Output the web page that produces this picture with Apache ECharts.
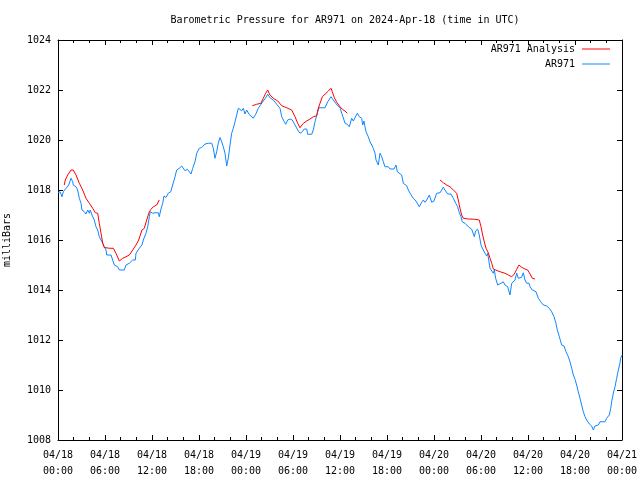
<!DOCTYPE html>
<html>
<head>
<meta charset="utf-8">
<script src="https://cdn.jsdelivr.net/npm/echarts@6/dist/echarts.min.js"></script>
<style>html,body{margin:0;padding:0;background:#fff}#c{width:640px;height:480px}</style>
</head>
<body>
<div id="c"></div>
<script>
// Hours since 2024-04-18 00:00 UTC
const xTickLabels = ['04/18\n00:00','04/18\n06:00','04/18\n12:00','04/18\n18:00','04/19\n00:00','04/19\n06:00','04/19\n12:00','04/19\n18:00','04/20\n00:00','04/20\n06:00','04/20\n12:00','04/20\n18:00','04/21\n00:00'];

const obsHours = [0,0.26,0.51,0.68,1.02,1.37,1.66,1.88,1.95,2.30,2.51,2.72,2.94,3.06,3.36,3.57,3.79,4.0,4.12,4.34,4.63,4.85,5.07,5.27,5.49,5.71,5.91,6.13,6.22,6.77,6.98,7.19,7.40,7.62,7.83,8.46,8.68,8.90,9.10,9.54,9.87,9.96,10.38,10.72,10.89,11.23,11.45,11.66,11.78,12.09,12.38,12.80,12.93,13.11,13.37,13.53,13.79,14.08,14.39,14.64,14.94,15.15,15.49,15.79,16.0,16.21,16.51,16.76,16.98,17.20,17.49,17.71,18.04,18.34,18.55,18.77,19.19,19.62,19.83,20.04,20.26,20.46,20.68,20.90,21.10,21.32,21.54,21.74,21.96,22.17,22.38,22.60,22.81,23.02,23.23,23.45,23.66,23.87,24.09,24.38,24.57,24.93,25.24,25.57,25.91,26.21,26.51,26.77,27.06,27.49,27.92,28.34,28.56,28.89,29.07,29.32,29.62,29.91,30.26,30.60,30.89,31.19,31.44,31.75,31.88,32.39,32.59,32.81,33.15,33.32,34.09,34.43,34.85,35.15,35.45,35.71,36.0,36.22,36.51,36.64,36.93,37.19,37.49,37.70,37.91,38.21,38.47,38.77,38.90,39.06,39.19,39.32,39.61,39.83,40.05,40.25,40.47,40.60,40.76,40.89,41.11,41.32,41.53,41.74,41.96,42.17,42.38,42.89,43.15,43.32,43.57,43.87,44.08,44.51,44.72,45.02,45.36,45.70,46.12,46.43,46.63,46.85,47.07,47.40,47.71,48.0,48.13,48.34,48.77,49.19,49.40,49.75,50.17,50.47,50.77,51.03,51.19,51.45,51.61,51.96,52.38,52.81,53.15,53.32,53.58,53.78,54.0,54.29,54.51,54.73,54.85,55.02,55.15,55.37,55.57,55.70,55.87,56.13,56.55,56.85,57.06,57.28,57.41,57.70,57.92,58.12,58.34,58.56,58.76,58.98,59.19,59.40,59.62,59.83,60.13,60.26,60.55,60.80,61.02,61.32,61.62,61.96,62.38,62.72,63.02,63.32,63.57,63.74,64.0,64.30,64.60,64.85,65.15,65.36,65.58,65.79,66.0,66.21,66.42,66.64,66.85,67.06,67.28,67.49,67.83,68.13,68.34,68.55,68.77,68.98,69.19,69.83,70.04,70.38,70.56,70.68,70.89,71.11,71.32,71.53,71.74,71.83,72.0];
const obsValues = [1017.9,1017.93,1017.73,1017.93,1018.07,1018.2,1018.47,1018.33,1018.2,1018.13,1018.0,1017.67,1017.47,1017.2,1017.13,1017.04,1017.2,1017.07,1017.2,1017.0,1016.8,1016.53,1016.4,1016.13,1016.0,1015.87,1015.73,1015.6,1015.4,1015.4,1015.2,1015.0,1015.07,1014.93,1014.8,1014.8,1015.0,1014.93,1015.07,1015.2,1015.2,1015.47,1015.67,1015.8,1016.0,1016.27,1016.53,1016.93,1017.13,1017.07,1017.09,1017.09,1016.93,1017.2,1017.47,1017.76,1017.7,1017.87,1017.93,1018.2,1018.53,1018.8,1018.87,1018.96,1018.93,1018.77,1018.83,1018.8,1018.64,1018.87,1019.13,1019.47,1019.67,1019.7,1019.7,1019.84,1019.87,1019.87,1019.67,1019.27,1019.53,1019.87,1020.1,1019.93,1019.73,1019.47,1018.96,1019.27,1019.8,1020.27,1020.47,1020.73,1021.0,1021.27,1021.33,1021.17,1021.27,1021.04,1021.2,1021.03,1021.03,1020.87,1021.03,1021.27,1021.43,1021.56,1021.69,1021.83,1021.69,1021.6,1021.43,1021.27,1020.93,1020.73,1020.63,1020.8,1020.84,1020.8,1020.6,1020.4,1020.27,1020.33,1020.44,1020.44,1020.23,1020.23,1020.4,1020.73,1021.13,1021.29,1021.29,1021.53,1021.73,1021.6,1021.47,1021.37,1021.3,1021.07,1020.8,1020.67,1020.63,1020.53,1020.87,1020.76,1020.89,1021.07,1020.93,1020.87,1020.6,1020.76,1020.53,1020.33,1020.13,1019.93,1019.8,1019.67,1019.47,1019.2,1019.13,1019.0,1019.47,1019.33,1019.13,1018.93,1019.0,1018.93,1018.84,1018.84,1019.0,1018.73,1018.8,1018.6,1018.27,1018.17,1018.0,1017.83,1017.67,1017.56,1017.33,1017.51,1017.6,1017.51,1017.6,1017.8,1017.51,1017.56,1017.6,1017.87,1017.89,1018.11,1018.0,1017.84,1017.84,1017.67,1017.47,1017.33,1017.13,1016.93,1016.73,1016.67,1016.53,1016.43,1016.13,1016.37,1016.43,1016.2,1015.8,1015.6,1015.47,1015.36,1015.47,1015.13,1014.87,1014.8,1014.67,1014.8,1014.47,1014.2,1014.27,1014.33,1014.2,1014.27,1014.13,1013.8,1014.27,1014.2,1014.4,1014.67,1014.47,1014.4,1014.51,1014.69,1014.4,1014.27,1014.27,1014.13,1014.0,1013.93,1013.93,1013.67,1013.53,1013.4,1013.36,1013.27,1013.13,1012.93,1012.67,1012.4,1012.13,1011.8,1011.76,1011.53,1011.33,1011.13,1010.87,1010.6,1010.43,1010.2,1009.93,1009.67,1009.4,1009.13,1008.93,1008.8,1008.64,1008.56,1008.4,1008.56,1008.51,1008.6,1008.73,1008.73,1008.87,1009.0,1009.27,1009.53,1009.87,1010.13,1010.47,1010.8,1011.07,1011.27,1011.4];

// Analysis series: three runs, separated by null gaps
const anaHours = [0.80,0.93,1.24,1.66,1.95,2.30,2.72,3.15,3.57,4.0,4.43,4.76,5.07,5.27,5.49,5.71,5.91,6.55,7.06,7.40,7.83,8.26,8.68,9.10,9.54,9.96,10.30,10.72,11.02,11.32,11.66,11.87,12.17,12.60,12.93,
  18.0,
  24.80,25.37,25.91,26.21,26.51,26.77,27.06,27.49,28.05,28.56,29.19,29.83,30.26,30.60,30.89,31.32,31.75,32.17,32.59,33.02,33.23,33.74,34.09,34.51,34.85,35.02,35.28,35.58,36.0,36.30,36.64,36.93,
  42.0,
  48.77,49.19,49.62,50.04,50.47,50.90,51.10,51.32,51.53,51.74,52.38,53.23,53.78,54.0,54.21,54.42,54.64,54.93,55.15,55.37,55.57,55.87,56.43,57.06,57.49,57.92,58.26,58.56,58.85,59.19,59.62,59.96,60.26,60.55,60.89];
const anaValues = [1018.2,1018.4,1018.6,1018.8,1018.8,1018.6,1018.27,1018.0,1017.67,1017.47,1017.27,1017.09,1017.07,1016.67,1016.27,1015.87,1015.7,1015.67,1015.67,1015.47,1015.16,1015.27,1015.33,1015.4,1015.6,1015.8,1016.0,1016.4,1016.47,1016.8,1017.13,1017.23,1017.33,1017.4,1017.6,
  null,
  1021.37,1021.43,1021.47,1021.67,1021.87,1022.0,1021.8,1021.67,1021.56,1021.37,1021.29,1021.2,1020.93,1020.67,1020.49,1020.67,1020.76,1020.84,1020.93,1020.97,1021.27,1021.73,1021.83,1021.96,1022.07,1021.93,1021.69,1021.51,1021.33,1021.23,1021.16,1021.07,
  null,
  1018.4,1018.29,1018.2,1018.13,1018.0,1017.87,1017.6,1017.27,1017.0,1016.87,1016.84,1016.83,1016.8,1016.53,1016.2,1015.93,1015.67,1015.49,1015.27,1015.07,1014.84,1014.8,1014.73,1014.67,1014.6,1014.53,1014.64,1014.83,1015.0,1014.91,1014.84,1014.8,1014.64,1014.47,1014.44];

const FONT = 'DejaVu Sans Mono';
const obsData = obsHours.map((h, i) => [h, obsValues[i]]);
const anaData = anaHours.map((h, i) => [h, anaValues[i]]);

const chart = echarts.init(document.getElementById('c'), null, {renderer: 'canvas'});
const tickInside = (len) => ({show: true, inside: true, length: len, lineStyle: {color: '#000', width: 1}});
const line = {show: true, onZero: false, lineStyle: {color: '#000', width: 1}};
const legendCommon = {align: 'right', itemWidth: 28, itemHeight: 10, itemGap: 0,
  textStyle: {fontFamily: FONT, fontSize: 10, color: '#000', padding: [0, 2, 0, 0]},
  icon: 'path://M0,5L28,5L28,6L0,6Z'};
chart.setOption({
  animation: false,
  backgroundColor: '#fff',
  title: {
    text: 'Barometric Pressure for AR971 on 2024-Apr-18 (time in UTC)',
    left: 340, top: 10, textAlign: 'center',
    textStyle: {fontFamily: FONT, fontSize: 10, fontWeight: 'normal', color: '#000'}
  },
  legend: [
    Object.assign({data: ['AR971 Analysis'], right: 25, top: 39}, legendCommon),
    Object.assign({data: ['AR971'], right: 25, top: 54}, legendCommon)
  ],
  grid: {left: 58, right: 18, top: 40, bottom: 40, containLabel: false, outerBoundsMode: 'none'},
  xAxis: [
    {type: 'value', min: 0, max: 72, interval: 6, position: 'bottom',
     axisLine: line, axisTick: tickInside(5), minorTick: {show: true, splitNumber: 3, length: 3, lineStyle: {color: '#000'}},
     splitLine: {show: false},
     axisLabel: {fontFamily: FONT, fontSize: 10, color: '#000', margin: 7, lineHeight: 16,
       formatter: (v) => xTickLabels[Math.round(v / 6)]}},
    {type: 'value', min: 0, max: 72, interval: 6, position: 'top',
     axisLine: line, axisTick: tickInside(5), minorTick: {show: true, splitNumber: 3, length: 3, lineStyle: {color: '#000'}},
     splitLine: {show: false}, axisLabel: {show: false}}
  ],
  yAxis: [
    {type: 'value', min: 1008, max: 1024, interval: 2, position: 'left',
     name: 'milliBars', nameLocation: 'middle', nameRotate: 90, nameGap: 46,
     nameTextStyle: {fontFamily: FONT, fontSize: 10, color: '#000'},
     axisLine: line, axisTick: tickInside(5), splitLine: {show: false},
     axisLabel: {fontFamily: FONT, fontSize: 10, color: '#000', margin: 7, formatter: (v) => String(v)}},
    {type: 'value', min: 1008, max: 1024, interval: 2, position: 'right',
     axisLine: line, axisTick: tickInside(5), splitLine: {show: false}, axisLabel: {show: false}}
  ],
  series: [
    {name: 'AR971 Analysis', type: 'line', data: anaData, showSymbol: false, symbol: 'none',
     connectNulls: false, lineStyle: {color: '#ff0000', width: 1}, itemStyle: {color: '#ff0000'}, z: 3},
    {name: 'AR971', type: 'line', data: obsData, showSymbol: false, symbol: 'none',
     lineStyle: {color: '#0f86ff', width: 1}, itemStyle: {color: '#0f86ff'}, z: 2}
  ]
});
</script>
</body>
</html>
